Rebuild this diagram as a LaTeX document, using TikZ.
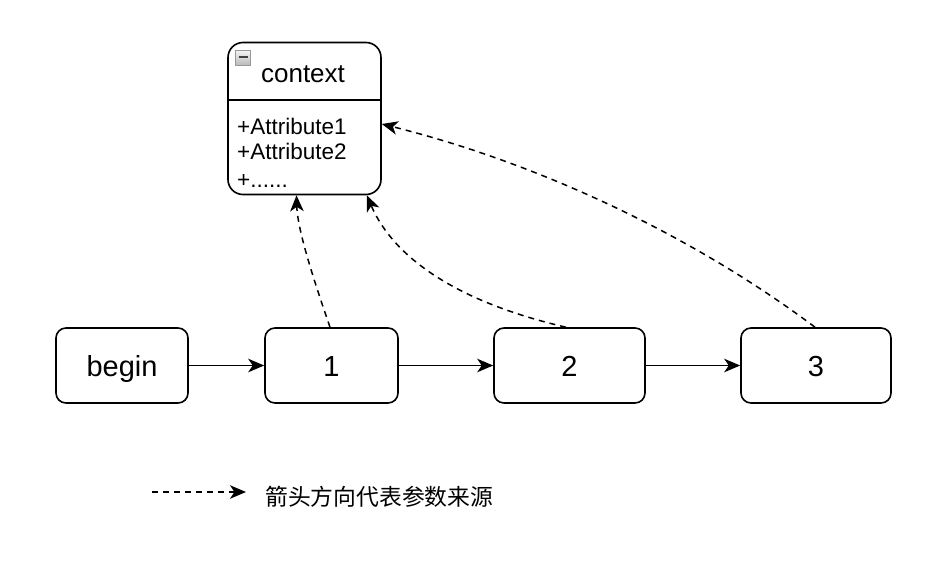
\documentclass[tikz,border=0pt]{standalone}
\usepackage{fontspec}
\setmainfont{Liberation Sans}
\newfontfamily\cjk{Noto Sans CJK SC}
\usetikzlibrary{arrows.meta}
\begin{document}
\begin{tikzpicture}[x=1pt,y=-1pt,
  proc/.style={draw, line width=1.6pt, rounded corners=10pt, minimum height=75pt, inner sep=0pt, text height=22pt, text depth=0pt, font=\fontsize{29}{33}\selectfont},
  flow/.style={line width=1.5pt, -{Stealth[length=16pt,width=13.5pt,inset=4.5pt]}},
  src/.style={flow, dash pattern=on 6pt off 5pt},
  attr/.style={anchor=base west, inner sep=0pt, font=\fontsize{22.5}{26}\selectfont}]
\useasboundingbox (0,0) rectangle (946,587);
% process boxes
\node[proc, minimum width=132pt] (b) at (122,365.5) {begin};
\node[proc, minimum width=133pt] (n1) at (331.5,365.5) {1};
\node[proc, minimum width=151pt] (n2) at (569.5,365.5) {2};
\node[proc, minimum width=150pt] (n3) at (816,365.5) {3};
% context class box
\node[draw, line width=1.6pt, rounded corners=15pt, minimum width=153pt, minimum height=152pt, inner sep=0pt] (ctx) at (304.5,118.5) {};
\coordinate (sep) at (0,100);
\draw[line width=1.6pt] (ctx.west |- sep) -- (ctx.east |- sep);
\node[anchor=base, inner sep=0pt, font=\fontsize{26}{30}\selectfont] (title) at (303,82) {context};
\node[draw=gray!80, top color=gray!10, bottom color=gray!55, minimum size=15pt, inner sep=0pt] (icon) at (243,58) {};
\draw[line width=1.8pt, black!75] ([xshift=-4.5pt,yshift=1pt]icon.center) -- ([xshift=4.5pt,yshift=1pt]icon.center);
\node[attr] (a1) at (237,134) {+Attribute1};
\node[attr] (a2) at (237,159) {+Attribute2};
\node[attr] (a3) at (237,187) {+......};
% flow arrows
\draw[flow] (b.east) -- (n1.west);
\draw[flow] (n1.east) -- (n2.west);
\draw[flow] (n2.east) -- (n3.west);
% parameter source arrows
\draw[src] ([xshift=-1.5pt]n1.north) .. controls +(-12,-35) and +(1,37) .. ([xshift=-8pt]ctx.south);
\draw[src] ([xshift=-3.5pt]n2.north) .. controls +(-108,-25) and +(27,63) .. ([xshift=-15pt]ctx.south east);
\draw[src] ([xshift=-1pt]n3.north) .. controls +(-120,-90) and +(160,40) .. ([yshift=-5.5pt]ctx.east);
% legend
\coordinate (l0) at (152,492);
\coordinate (l1) at (246,492);
\draw[src] (l0) -- (l1);
\node[anchor=west, inner sep=0pt, font={\cjk\fontsize{22.8}{26}\selectfont}] (leg) at (265,497) {箭头方向代表参数来源};
\end{tikzpicture}
\end{document}
